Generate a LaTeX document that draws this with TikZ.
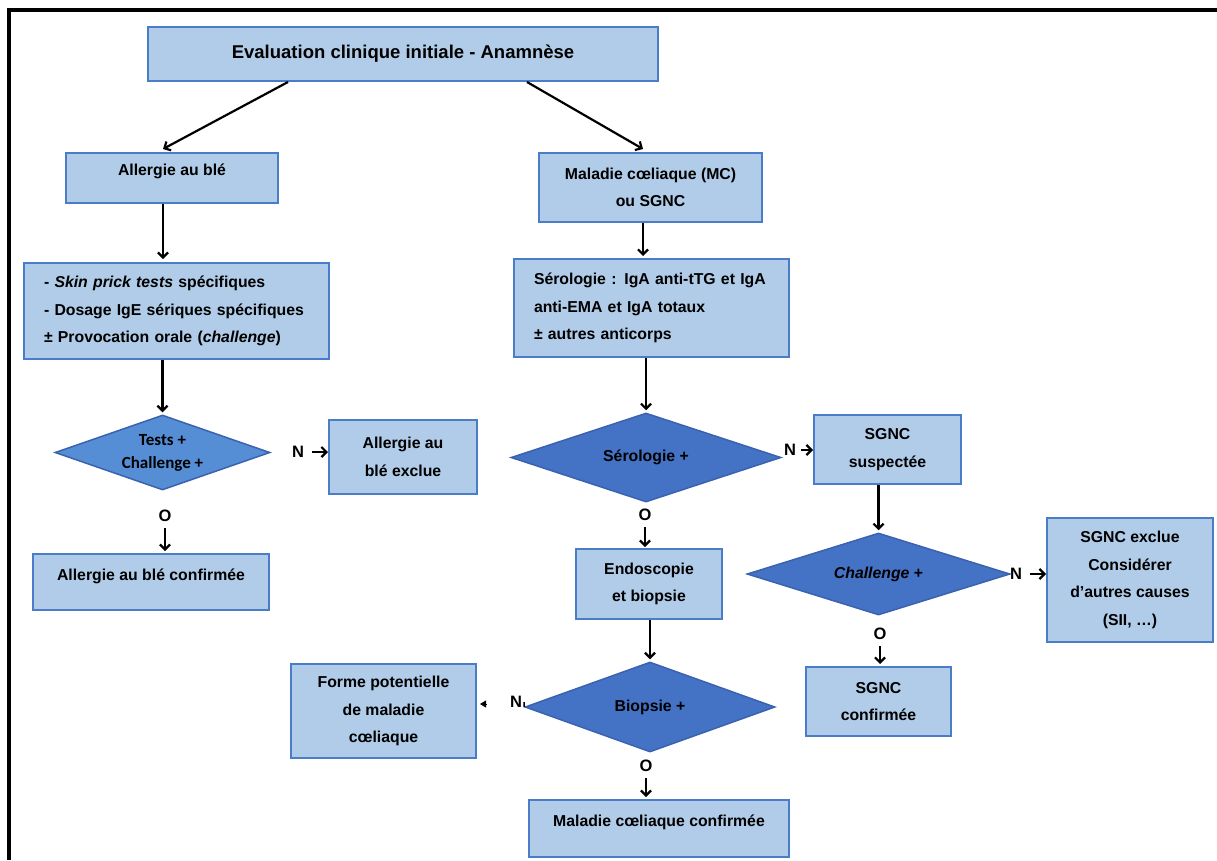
\documentclass[tikz,border=0pt]{standalone}
\usepackage{fontspec}
\setmainfont{Liberation Sans}
\newfontfamily\carlitofont{Carlito}
\usetikzlibrary{shapes.geometric,arrows.meta}
\definecolor{boxfill}{RGB}{176,204,232}
\definecolor{boxdraw}{RGB}{74,124,200}
\definecolor{diafill}{RGB}{68,114,196}
\definecolor{diadraw}{RGB}{58,98,176}
\definecolor{dialight}{RGB}{85,142,213}
\begin{document}
\begin{tikzpicture}[x=1pt,y=-1pt,
  box/.style={draw=boxdraw, fill=boxfill, line width=2pt, inner sep=0pt, align=center,
    font=\bfseries\fontsize{15.8}{27.5}\selectfont},
  dia/.style={diamond, draw=diadraw, fill=diafill, line width=1.5pt, inner sep=0pt, align=center,
    font=\bfseries\fontsize{15.8}{27.5}\selectfont},
  lab/.style={font=\bfseries\fontsize{16.5}{18}\selectfont, inner sep=2pt},
  arr/.style={line width=2.2pt, -{Straight Barb[length=5pt,width=10pt]}},
  tri/.style={line width=1pt, -{Triangle[length=6pt,width=7pt]}},
  raise/.style={text height=12pt, text depth=#1},
]
\useasboundingbox (0,0) rectangle (1217,860);
% frame
\coordinate (fA) at (6,10);
\coordinate (fB) at (1217,10);
\coordinate (fC) at (9,860);
\draw[line width=3.2pt] (fB) -- (fA -| fC) -- (fC);

% boxes
\node[box, minimum width=510pt, minimum height=54pt, font=\bfseries\fontsize{18.5}{22}\selectfont] (top) at (403,54) {Evaluation clinique initiale - Anamnèse};
\node[box, minimum width=212pt, minimum height=50pt, raise=17pt] (allergie) at (172,178) {Allergie au blé};
\node[box, minimum width=223pt, minimum height=69pt] (mc) at (650.5,187.5) {Maladie cœliaque (MC)\\ou SGNC};
\node[box, align=left, text width=265pt, inner xsep=20pt, minimum height=96pt] (skin) at (176.5,311)
  {- \textit{Skin prick tests} spécifiques\\- Dosage IgE sériques spécifiques\\± Provocation orale (\textit{challenge})};
\node[box, align=left, text width=235pt, inner xsep=20pt, minimum height=98pt] (serobox) at (651.5,308)
  {Sérologie : IgA anti-tTG et IgA\\anti-EMA et IgA totaux\\± autres anticorps};
\node[dia, fill=dialight, aspect=2.87, minimum width=215pt, minimum height=75pt,
  font=\carlitofont\bfseries\fontsize{17}{23}\selectfont] (tests) at (162.5,452.5) {Tests +\\Challenge +};
\node[box, minimum width=148pt, minimum height=74pt] (exclue) at (403,457) {Allergie au\\blé exclue};
\node[box, minimum width=236pt, minimum height=56pt, raise=16pt] (confirmee) at (151,582) {Allergie au blé confirmée};
\node[dia, aspect=3, minimum width=270pt, minimum height=89pt] (serodia) at (646,457.5) {Sérologie +};
\node[box, minimum width=147pt, minimum height=69pt] (sgncs) at (887.5,449.5) {SGNC\\suspectée};
\node[box, minimum width=146pt, minimum height=70pt] (endo) at (649,584) {Endoscopie\\et biopsie};
\node[dia, aspect=3.2, minimum width=263pt, minimum height=82pt] (chal) at (878.5,574) {\textit{Challenge} +};
\node[box, minimum width=166pt, minimum height=124pt] (exclue2) at (1130,580) {SGNC exclue\\Considérer\\d’autres causes\\(SII, …)};
\node[box, minimum width=145pt, minimum height=69pt] (sgncc) at (878.5,701.5) {SGNC\\confirmée};
\node[box, minimum width=185pt, minimum height=94pt] (forme) at (383.5,711) {Forme potentielle\\de maladie\\cœliaque};
\node[dia, aspect=2.8, minimum width=250pt, minimum height=90pt] (biop) at (650,707) {Biopsie +};
\node[box, minimum width=260pt, minimum height=57pt, raise=16pt] (mcc) at (659,828.5) {Maladie cœliaque confirmée};

% labels
\node[lab] (n1) at (298,452) {N};
\node[lab] (o1) at (165,516) {O};
\node[lab] (n2) at (790,450) {N};
\node[lab] (o2) at (645,515) {O};
\node[lab] (n3) at (1016,574) {N};
\node[lab] (o3) at (880,634) {O};
\node[lab] (n4) at (516,702) {N};
\node[lab] (o4) at (646,766) {O};

% connectors
\draw[arr] ([xshift=-115pt]top.south) -- ([xshift=-9pt,yshift=3pt]allergie.north);
\draw[arr] ([xshift=124pt]top.south) -- ([xshift=-7.5pt,yshift=3pt]mc.north);
\draw[arr] ([xshift=-9pt]allergie.south) -- ([xshift=-9pt,yshift=3pt]allergie.south |- skin.north);
\draw[arr] ([xshift=-7.5pt]mc.south) -- ([xshift=-7.5pt,yshift=2pt]mc.south |- serobox.north);
\draw[arr] (skin.south -| tests.north) -- ([yshift=2pt]tests.north);
\draw[arr] (serobox.south -| serodia.north) -- ([yshift=2pt]serodia.north);
\draw[arr] ([xshift=6pt]n1.east) -- (exclue.west |- n1);
\draw[arr] ([yshift=-4pt]o1.south) -- ([yshift=2pt]confirmee.north -| o1);
\draw[arr] ([xshift=3pt]n2.east) -- (sgncs.west |- n2);
\draw[arr] ([yshift=-4pt]o2.south) -- ([yshift=1pt]endo.north -| o2);
\draw[arr] (sgncs.south -| chal.north) -- ([yshift=2pt]chal.north);
\draw[arr] ([xshift=6pt]n3.east) -- (exclue2.west |- n3);
\draw[arr] ([yshift=-4pt]o3.south) -- ([yshift=2pt]sgncc.north -| o3);
\draw[arr] (endo.south -| biop.north) -- ([yshift=2pt]biop.north);
\draw[line width=1.5pt] (n4.east) -- (biop.west);
\coordinate (fa) at (487,704);
\draw[tri, shorten >=3pt] (fa) -- (forme.east |- fa);
\draw[arr] ([yshift=-4pt]o4.south) -- ([yshift=2pt]mcc.north -| o4);
\end{tikzpicture}
\end{document}
